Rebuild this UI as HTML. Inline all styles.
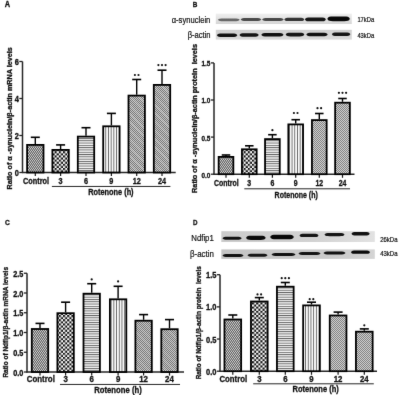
<!DOCTYPE html><html><head><meta charset="utf-8"><style>html,body{margin:0;padding:0;background:#fff;width:400px;height:395px;overflow:hidden}svg{display:block;will-change:transform;font-family:"Liberation Sans", sans-serif}text{stroke:#111;stroke-width:0.3px}</style></head><body>
<svg width="400" height="395" viewBox="0 0 400 395">
<defs>
<pattern id="pc" width="2" height="3" patternUnits="userSpaceOnUse"><rect width="2" height="3" fill="#d4d4d4"/><rect width="1" height="1" fill="#5a5a5a"/><rect x="1" y="1" width="1" height="1" fill="#5a5a5a"/><rect y="2" width="2" height="1" fill="#909090"/></pattern>
<pattern id="pk" width="4.2" height="4.2" patternUnits="userSpaceOnUse"><rect width="4.2" height="4.2" fill="#fff"/><rect width="2.1" height="2.1" fill="#111"/><rect x="2.1" y="2.1" width="2.1" height="2.1" fill="#111"/></pattern>
<pattern id="ph" width="4" height="2.3" patternUnits="userSpaceOnUse"><rect width="4" height="2.3" fill="#f6f6f6"/><rect y="0" width="4" height="0.9" fill="#606060"/></pattern>
<pattern id="pv" width="2.7" height="4" patternUnits="userSpaceOnUse"><rect width="2.7" height="4" fill="#fafafa"/><rect x="0" width="0.9" height="4" fill="#666"/></pattern>
<pattern id="pf" width="2" height="2" patternUnits="userSpaceOnUse"><rect width="2" height="2" fill="#d2d2d2"/><rect width="1" height="1" fill="#6c6c6c"/><rect x="1" y="1" width="1" height="1" fill="#6c6c6c"/></pattern>
<pattern id="pds2" width="6" height="6" patternUnits="userSpaceOnUse" patternTransform="rotate(45)"><rect width="6" height="1" fill="#eee" opacity="0.22"/></pattern>
<pattern id="pds" width="6" height="6" patternUnits="userSpaceOnUse" patternTransform="rotate(45)"><rect width="6" height="1" fill="#eee" opacity="0.4"/></pattern>
<pattern id="px" width="2" height="2" patternUnits="userSpaceOnUse"><rect width="2" height="2" fill="#dadada"/><rect width="1" height="1" fill="#787878"/><rect x="1" y="1" width="1" height="1" fill="#787878"/></pattern>
<linearGradient id="g1" x1="0" y1="0" x2="0" y2="1"><stop offset="0" stop-color="#f0f0f0"/><stop offset="0.45" stop-color="#e4e4e4"/><stop offset="1" stop-color="#d6d6d6"/></linearGradient>
<linearGradient id="g2" x1="0" y1="0" x2="0" y2="1"><stop offset="0" stop-color="#d0d0d0"/><stop offset="1" stop-color="#dadada"/></linearGradient>
<linearGradient id="g3" x1="0" y1="0" x2="0" y2="1"><stop offset="0" stop-color="#d6d6d6"/><stop offset="1" stop-color="#c6c6c6"/></linearGradient>
<filter id="gb" x="0" y="0" width="400" height="395" filterUnits="userSpaceOnUse" color-interpolation-filters="sRGB"><feConvolveMatrix order="3" kernelMatrix="0.0052 0.0619 0.0052 0.0619 0.7314 0.0619 0.0052 0.0619 0.0052" edgeMode="duplicate"/></filter>
<linearGradient id="g4" x1="0" y1="0" x2="1" y2="0"><stop offset="0" stop-color="#cbcbcb"/><stop offset="0.6" stop-color="#d2d2d2"/><stop offset="1" stop-color="#e2e2e2"/></linearGradient>
<linearGradient id="g5" x1="0" y1="0" x2="1" y2="0"><stop offset="0" stop-color="#c4c4c4"/><stop offset="0.7" stop-color="#cacaca"/><stop offset="1" stop-color="#d4d4d4"/></linearGradient>
<filter id="bl" x="-20%" y="-100%" width="140%" height="300%" color-interpolation-filters="sRGB"><feGaussianBlur stdDeviation="0.75"/></filter>
<filter id="bb" x="-5%" y="-30%" width="110%" height="160%" color-interpolation-filters="sRGB"><feGaussianBlur stdDeviation="0.5"/></filter>
</defs>
<rect width="400" height="395" fill="#fff"/>
<g filter="url(#gb)"><rect width="400" height="395" fill="#fff"/>
<line x1="22.5" y1="61.5" x2="22.5" y2="173" stroke="#262626" stroke-width="1.5"/>
<line x1="19.3" y1="172.5" x2="22.5" y2="172.5" stroke="#222" stroke-width="1.3"/>
<text x="18.9" y="176.08" font-size="8.29" font-weight="bold" text-anchor="end" fill="#111" textLength="4.12" lengthAdjust="spacingAndGlyphs" style="stroke-width:0.32px">0</text>
<line x1="19.3" y1="135.5" x2="22.5" y2="135.5" stroke="#222" stroke-width="1.3"/>
<text x="18.9" y="139.08" font-size="8.29" font-weight="bold" text-anchor="end" fill="#111" textLength="4.12" lengthAdjust="spacingAndGlyphs" style="stroke-width:0.32px">2</text>
<line x1="19.3" y1="98.5" x2="22.5" y2="98.5" stroke="#222" stroke-width="1.3"/>
<text x="18.9" y="102.08" font-size="8.29" font-weight="bold" text-anchor="end" fill="#111" textLength="4.12" lengthAdjust="spacingAndGlyphs" style="stroke-width:0.32px">4</text>
<line x1="19.3" y1="61.5" x2="22.5" y2="61.5" stroke="#222" stroke-width="1.3"/>
<text x="18.9" y="65.08" font-size="8.29" font-weight="bold" text-anchor="end" fill="#111" textLength="4.12" lengthAdjust="spacingAndGlyphs" style="stroke-width:0.32px">6</text>
<line x1="21.9" y1="172.5" x2="175.7" y2="172.5" stroke="#262626" stroke-width="1.5"/>
<line x1="35.3" y1="172.5" x2="35.3" y2="176.1" stroke="#1a1a1a" stroke-width="1.2"/>
<line x1="35.3" y1="137.3" x2="35.3" y2="144" stroke="#000" stroke-width="1.4"/>
<line x1="30.8" y1="137.3" x2="39.8" y2="137.3" stroke="#000" stroke-width="1.6"/>
<rect x="27.1" y="144.9" width="16.4" height="27.6" fill="url(#pc)" stroke="#000" stroke-width="1.8"/>
<text x="36" y="183.6" font-size="8.18" font-weight="bold" text-anchor="middle" fill="#111" textLength="25.95" lengthAdjust="spacingAndGlyphs">Control</text>
<line x1="60.6" y1="172.5" x2="60.6" y2="176.1" stroke="#1a1a1a" stroke-width="1.2"/>
<line x1="60.6" y1="144.9" x2="60.6" y2="149" stroke="#000" stroke-width="1.4"/>
<line x1="56.1" y1="144.9" x2="65.1" y2="144.9" stroke="#000" stroke-width="1.6"/>
<rect x="52.4" y="149.9" width="16.4" height="22.6" fill="url(#pk)" stroke="#000" stroke-width="1.8"/>
<text x="60.6" y="183.6" font-size="8.18" font-weight="bold" text-anchor="middle" fill="#111" textLength="4.06" lengthAdjust="spacingAndGlyphs">3</text>
<line x1="86" y1="172.5" x2="86" y2="176.1" stroke="#1a1a1a" stroke-width="1.2"/>
<line x1="86" y1="127.7" x2="86" y2="135.7" stroke="#000" stroke-width="1.4"/>
<line x1="81.5" y1="127.7" x2="90.5" y2="127.7" stroke="#000" stroke-width="1.6"/>
<rect x="77.8" y="136.6" width="16.4" height="35.9" fill="url(#ph)" stroke="#000" stroke-width="1.8"/>
<text x="86" y="183.6" font-size="8.18" font-weight="bold" text-anchor="middle" fill="#111" textLength="4.06" lengthAdjust="spacingAndGlyphs">6</text>
<line x1="111.4" y1="172.5" x2="111.4" y2="176.1" stroke="#1a1a1a" stroke-width="1.2"/>
<line x1="111.4" y1="113.4" x2="111.4" y2="125.4" stroke="#000" stroke-width="1.4"/>
<line x1="106.9" y1="113.4" x2="115.9" y2="113.4" stroke="#000" stroke-width="1.6"/>
<rect x="103.2" y="126.3" width="16.4" height="46.2" fill="url(#pv)" stroke="#000" stroke-width="1.8"/>
<text x="111.4" y="183.6" font-size="8.18" font-weight="bold" text-anchor="middle" fill="#111" textLength="4.06" lengthAdjust="spacingAndGlyphs">9</text>
<line x1="136.7" y1="172.5" x2="136.7" y2="176.1" stroke="#1a1a1a" stroke-width="1.2"/>
<line x1="136.7" y1="79.5" x2="136.7" y2="94.7" stroke="#000" stroke-width="1.4"/>
<line x1="132.2" y1="79.5" x2="141.2" y2="79.5" stroke="#000" stroke-width="1.6"/>
<rect x="128.5" y="95.6" width="16.4" height="76.9" fill="url(#pf)"/>
<rect x="128.5" y="95.6" width="16.4" height="76.9" fill="url(#pds)" stroke="#000" stroke-width="1.8"/>
<text x="136.7" y="183.6" font-size="8.18" font-weight="bold" text-anchor="middle" fill="#111" textLength="8.12" lengthAdjust="spacingAndGlyphs">12</text>
<circle cx="134.9" cy="75" r="1.1" fill="#111"/>
<circle cx="138.5" cy="75" r="1.1" fill="#111"/>
<line x1="162" y1="172.5" x2="162" y2="176.1" stroke="#1a1a1a" stroke-width="1.2"/>
<line x1="162" y1="70.2" x2="162" y2="84" stroke="#000" stroke-width="1.4"/>
<line x1="157.5" y1="70.2" x2="166.5" y2="70.2" stroke="#000" stroke-width="1.6"/>
<rect x="153.8" y="84.9" width="16.4" height="87.6" fill="url(#pf)"/>
<rect x="153.8" y="84.9" width="16.4" height="87.6" fill="url(#pds)" stroke="#000" stroke-width="1.8"/>
<text x="162" y="183.6" font-size="8.18" font-weight="bold" text-anchor="middle" fill="#111" textLength="8.12" lengthAdjust="spacingAndGlyphs">24</text>
<circle cx="158.4" cy="65.1" r="1.1" fill="#111"/>
<circle cx="162" cy="65.1" r="1.1" fill="#111"/>
<circle cx="165.6" cy="65.1" r="1.1" fill="#111"/>
<line x1="51.9" y1="186.45" x2="170.4" y2="186.45" stroke="#262626" stroke-width="1"/>
<text x="110.9" y="194.7" font-size="8.24" font-weight="bold" text-anchor="middle" fill="#111" textLength="45.38" lengthAdjust="spacingAndGlyphs">Rotenone (h)</text>
<text x="12" y="118.4" font-size="7.49" font-weight="bold" text-anchor="middle" fill="#111" transform="rotate(-90 12 118.4)" textLength="142.19" lengthAdjust="spacingAndGlyphs">Ratio of α -synuclein/β-actin mRNA levels</text>
<text x="4.7" y="6.9" font-size="8.29" font-weight="bold" text-anchor="start" fill="#111" textLength="5.34" lengthAdjust="spacingAndGlyphs">A</text>
<line x1="214" y1="62.9" x2="214" y2="174.7" stroke="#262626" stroke-width="1.5"/>
<line x1="210.8" y1="174.2" x2="214" y2="174.2" stroke="#222" stroke-width="1.3"/>
<text x="210.4" y="177.61" font-size="7.81" font-weight="bold" text-anchor="end" fill="#111" textLength="8.9" lengthAdjust="spacingAndGlyphs" style="stroke-width:0.32px">0.0</text>
<line x1="210.8" y1="137.1" x2="214" y2="137.1" stroke="#222" stroke-width="1.3"/>
<text x="210.4" y="140.51" font-size="7.81" font-weight="bold" text-anchor="end" fill="#111" textLength="8.9" lengthAdjust="spacingAndGlyphs" style="stroke-width:0.32px">0.5</text>
<line x1="210.8" y1="100" x2="214" y2="100" stroke="#222" stroke-width="1.3"/>
<text x="210.4" y="103.41" font-size="7.81" font-weight="bold" text-anchor="end" fill="#111" textLength="8.9" lengthAdjust="spacingAndGlyphs" style="stroke-width:0.32px">1.0</text>
<line x1="210.8" y1="62.9" x2="214" y2="62.9" stroke="#222" stroke-width="1.3"/>
<text x="210.4" y="66.31" font-size="7.81" font-weight="bold" text-anchor="end" fill="#111" textLength="8.9" lengthAdjust="spacingAndGlyphs" style="stroke-width:0.32px">1.5</text>
<line x1="213.4" y1="174.2" x2="354.5" y2="174.2" stroke="#262626" stroke-width="1.5"/>
<line x1="226" y1="174.2" x2="226" y2="177.8" stroke="#1a1a1a" stroke-width="1.2"/>
<line x1="226" y1="155" x2="226" y2="156" stroke="#000" stroke-width="1.4"/>
<line x1="221.75" y1="155" x2="230.25" y2="155" stroke="#000" stroke-width="1.6"/>
<rect x="218.65" y="156.9" width="14.7" height="17.3" fill="url(#pc)" stroke="#000" stroke-width="1.8"/>
<text x="226.3" y="185.7" font-size="8.48" font-weight="bold" text-anchor="middle" fill="#111" textLength="24.71" lengthAdjust="spacingAndGlyphs">Control</text>
<line x1="249.3" y1="174.2" x2="249.3" y2="177.8" stroke="#1a1a1a" stroke-width="1.2"/>
<line x1="249.3" y1="145.8" x2="249.3" y2="148.4" stroke="#000" stroke-width="1.4"/>
<line x1="245.05" y1="145.8" x2="253.55" y2="145.8" stroke="#000" stroke-width="1.6"/>
<rect x="241.95" y="149.3" width="14.7" height="24.9" fill="url(#pk)" stroke="#000" stroke-width="1.8"/>
<text x="249.3" y="185.7" font-size="8.48" font-weight="bold" text-anchor="middle" fill="#111" textLength="3.87" lengthAdjust="spacingAndGlyphs">3</text>
<line x1="272.4" y1="174.2" x2="272.4" y2="177.8" stroke="#1a1a1a" stroke-width="1.2"/>
<line x1="272.4" y1="134.7" x2="272.4" y2="138.2" stroke="#000" stroke-width="1.4"/>
<line x1="268.15" y1="134.7" x2="276.65" y2="134.7" stroke="#000" stroke-width="1.6"/>
<rect x="265.05" y="139.1" width="14.7" height="35.1" fill="url(#ph)" stroke="#000" stroke-width="1.8"/>
<text x="272.4" y="185.7" font-size="8.48" font-weight="bold" text-anchor="middle" fill="#111" textLength="3.87" lengthAdjust="spacingAndGlyphs">6</text>
<circle cx="272.4" cy="130.2" r="1.1" fill="#111"/>
<line x1="295.7" y1="174.2" x2="295.7" y2="177.8" stroke="#1a1a1a" stroke-width="1.2"/>
<line x1="295.7" y1="119.7" x2="295.7" y2="123.5" stroke="#000" stroke-width="1.4"/>
<line x1="291.45" y1="119.7" x2="299.95" y2="119.7" stroke="#000" stroke-width="1.6"/>
<rect x="288.35" y="124.4" width="14.7" height="49.8" fill="url(#pv)" stroke="#000" stroke-width="1.8"/>
<text x="295.7" y="185.7" font-size="8.48" font-weight="bold" text-anchor="middle" fill="#111" textLength="3.87" lengthAdjust="spacingAndGlyphs">9</text>
<circle cx="293.9" cy="113" r="1.1" fill="#111"/>
<circle cx="297.5" cy="113" r="1.1" fill="#111"/>
<line x1="319.3" y1="174.2" x2="319.3" y2="177.8" stroke="#1a1a1a" stroke-width="1.2"/>
<line x1="319.3" y1="113.5" x2="319.3" y2="119.2" stroke="#000" stroke-width="1.4"/>
<line x1="315.05" y1="113.5" x2="323.55" y2="113.5" stroke="#000" stroke-width="1.6"/>
<rect x="311.95" y="120.1" width="14.7" height="54.1" fill="url(#px)" stroke="#000" stroke-width="1.8"/>
<text x="319.3" y="185.7" font-size="8.48" font-weight="bold" text-anchor="middle" fill="#111" textLength="7.73" lengthAdjust="spacingAndGlyphs">12</text>
<circle cx="317.5" cy="108.2" r="1.1" fill="#111"/>
<circle cx="321.1" cy="108.2" r="1.1" fill="#111"/>
<line x1="342.5" y1="174.2" x2="342.5" y2="177.8" stroke="#1a1a1a" stroke-width="1.2"/>
<line x1="342.5" y1="98.5" x2="342.5" y2="101.8" stroke="#000" stroke-width="1.4"/>
<line x1="338.25" y1="98.5" x2="346.75" y2="98.5" stroke="#000" stroke-width="1.6"/>
<rect x="335.15" y="102.7" width="14.7" height="71.5" fill="url(#px)" stroke="#000" stroke-width="1.8"/>
<text x="342.5" y="185.7" font-size="8.48" font-weight="bold" text-anchor="middle" fill="#111" textLength="7.73" lengthAdjust="spacingAndGlyphs">24</text>
<circle cx="338.9" cy="92.8" r="1.1" fill="#111"/>
<circle cx="342.5" cy="92.8" r="1.1" fill="#111"/>
<circle cx="346.1" cy="92.8" r="1.1" fill="#111"/>
<line x1="244.3" y1="188.8" x2="350" y2="188.8" stroke="#262626" stroke-width="1"/>
<text x="296.2" y="198.4" font-size="8.54" font-weight="bold" text-anchor="middle" fill="#111" textLength="43.16" lengthAdjust="spacingAndGlyphs">Rotenone (h)</text>
<text x="197.2" y="118.5" font-size="7.59" font-weight="bold" text-anchor="middle" fill="#111" transform="rotate(-90 197.2 118.5)" textLength="148.89" lengthAdjust="spacingAndGlyphs">Ratio of α -synuclein/β-actin protein&#160; levels</text>
<text x="192.8" y="6.5" font-size="7.17" font-weight="bold" text-anchor="start" fill="#111" textLength="4.62" lengthAdjust="spacingAndGlyphs">B</text>
<line x1="27" y1="273.25" x2="27" y2="372.5" stroke="#262626" stroke-width="1.5"/>
<line x1="23.8" y1="372" x2="27" y2="372" stroke="#222" stroke-width="1.3"/>
<text x="23.4" y="375.54" font-size="8.18" font-weight="bold" text-anchor="end" fill="#111" textLength="10.15" lengthAdjust="spacingAndGlyphs" style="stroke-width:0.32px">0.0</text>
<line x1="23.8" y1="352.25" x2="27" y2="352.25" stroke="#222" stroke-width="1.3"/>
<text x="23.4" y="355.79" font-size="8.18" font-weight="bold" text-anchor="end" fill="#111" textLength="10.15" lengthAdjust="spacingAndGlyphs" style="stroke-width:0.32px">0.5</text>
<line x1="23.8" y1="332.5" x2="27" y2="332.5" stroke="#222" stroke-width="1.3"/>
<text x="23.4" y="336.04" font-size="8.18" font-weight="bold" text-anchor="end" fill="#111" textLength="10.15" lengthAdjust="spacingAndGlyphs" style="stroke-width:0.32px">1.0</text>
<line x1="23.8" y1="312.75" x2="27" y2="312.75" stroke="#222" stroke-width="1.3"/>
<text x="23.4" y="316.29" font-size="8.18" font-weight="bold" text-anchor="end" fill="#111" textLength="10.15" lengthAdjust="spacingAndGlyphs" style="stroke-width:0.32px">1.5</text>
<line x1="23.8" y1="293" x2="27" y2="293" stroke="#222" stroke-width="1.3"/>
<text x="23.4" y="296.54" font-size="8.18" font-weight="bold" text-anchor="end" fill="#111" textLength="10.15" lengthAdjust="spacingAndGlyphs" style="stroke-width:0.32px">2.0</text>
<line x1="23.8" y1="273.25" x2="27" y2="273.25" stroke="#222" stroke-width="1.3"/>
<text x="23.4" y="276.79" font-size="8.18" font-weight="bold" text-anchor="end" fill="#111" textLength="10.15" lengthAdjust="spacingAndGlyphs" style="stroke-width:0.32px">2.5</text>
<line x1="26.4" y1="372" x2="184" y2="372" stroke="#262626" stroke-width="1.5"/>
<line x1="40" y1="372" x2="40" y2="375.6" stroke="#1a1a1a" stroke-width="1.2"/>
<line x1="40" y1="323.4" x2="40" y2="328.1" stroke="#000" stroke-width="1.4"/>
<line x1="35.5" y1="323.4" x2="44.5" y2="323.4" stroke="#000" stroke-width="1.6"/>
<rect x="31.8" y="329" width="16.4" height="43" fill="url(#pc)" stroke="#000" stroke-width="1.8"/>
<text x="40.8" y="382.1" font-size="8.85" font-weight="bold" text-anchor="middle" fill="#111" textLength="28.08" lengthAdjust="spacingAndGlyphs">Control</text>
<line x1="65.6" y1="372" x2="65.6" y2="375.6" stroke="#1a1a1a" stroke-width="1.2"/>
<line x1="65.6" y1="302.2" x2="65.6" y2="312.3" stroke="#000" stroke-width="1.4"/>
<line x1="61.1" y1="302.2" x2="70.1" y2="302.2" stroke="#000" stroke-width="1.6"/>
<rect x="57.4" y="313.2" width="16.4" height="58.8" fill="url(#pk)" stroke="#000" stroke-width="1.8"/>
<text x="65.6" y="382.1" font-size="8.85" font-weight="bold" text-anchor="middle" fill="#111" textLength="4.39" lengthAdjust="spacingAndGlyphs">3</text>
<line x1="91.7" y1="372" x2="91.7" y2="375.6" stroke="#1a1a1a" stroke-width="1.2"/>
<line x1="91.7" y1="283.7" x2="91.7" y2="292.8" stroke="#000" stroke-width="1.4"/>
<line x1="87.2" y1="283.7" x2="96.2" y2="283.7" stroke="#000" stroke-width="1.6"/>
<rect x="83.5" y="293.7" width="16.4" height="78.3" fill="url(#ph)" stroke="#000" stroke-width="1.8"/>
<text x="91.7" y="382.1" font-size="8.85" font-weight="bold" text-anchor="middle" fill="#111" textLength="4.39" lengthAdjust="spacingAndGlyphs">6</text>
<circle cx="91.7" cy="279.4" r="1.1" fill="#111"/>
<line x1="118.1" y1="372" x2="118.1" y2="375.6" stroke="#1a1a1a" stroke-width="1.2"/>
<line x1="118.1" y1="286.3" x2="118.1" y2="298.4" stroke="#000" stroke-width="1.4"/>
<line x1="113.6" y1="286.3" x2="122.6" y2="286.3" stroke="#000" stroke-width="1.6"/>
<rect x="109.9" y="299.3" width="16.4" height="72.7" fill="url(#pv)" stroke="#000" stroke-width="1.8"/>
<text x="118.1" y="382.1" font-size="8.85" font-weight="bold" text-anchor="middle" fill="#111" textLength="4.39" lengthAdjust="spacingAndGlyphs">9</text>
<circle cx="118.1" cy="281.4" r="1.1" fill="#111"/>
<line x1="143.6" y1="372" x2="143.6" y2="375.6" stroke="#1a1a1a" stroke-width="1.2"/>
<line x1="143.6" y1="314.6" x2="143.6" y2="319.8" stroke="#000" stroke-width="1.4"/>
<line x1="139.1" y1="314.6" x2="148.1" y2="314.6" stroke="#000" stroke-width="1.6"/>
<rect x="135.4" y="320.7" width="16.4" height="51.3" fill="url(#pf)"/>
<rect x="135.4" y="320.7" width="16.4" height="51.3" fill="url(#pds2)" stroke="#000" stroke-width="1.8"/>
<text x="143.6" y="382.1" font-size="8.85" font-weight="bold" text-anchor="middle" fill="#111" textLength="8.79" lengthAdjust="spacingAndGlyphs">12</text>
<line x1="169.5" y1="372" x2="169.5" y2="375.6" stroke="#1a1a1a" stroke-width="1.2"/>
<line x1="169.5" y1="319.6" x2="169.5" y2="328.3" stroke="#000" stroke-width="1.4"/>
<line x1="165" y1="319.6" x2="174" y2="319.6" stroke="#000" stroke-width="1.6"/>
<rect x="161.3" y="329.2" width="16.4" height="42.8" fill="url(#pf)"/>
<rect x="161.3" y="329.2" width="16.4" height="42.8" fill="url(#pds2)" stroke="#000" stroke-width="1.8"/>
<text x="169.5" y="382.1" font-size="8.85" font-weight="bold" text-anchor="middle" fill="#111" textLength="8.79" lengthAdjust="spacingAndGlyphs">24</text>
<line x1="60" y1="384.45" x2="180" y2="384.45" stroke="#262626" stroke-width="1"/>
<text x="118" y="392.9" font-size="8.62" font-weight="bold" text-anchor="middle" fill="#111" textLength="47.48" lengthAdjust="spacingAndGlyphs">Rotenone (h)</text>
<text x="7.8" y="322.3" font-size="6.76" font-weight="bold" text-anchor="middle" fill="#111" transform="rotate(-90 7.8 322.3)" textLength="110.63" lengthAdjust="spacingAndGlyphs">Ratio of Ndfip1/β-actin mRNA levels</text>
<text x="5" y="224.8" font-size="7.39" font-weight="bold" text-anchor="start" fill="#111" textLength="4.77" lengthAdjust="spacingAndGlyphs">C</text>
<line x1="220" y1="274.7" x2="220" y2="371.7" stroke="#262626" stroke-width="1.5"/>
<line x1="216.8" y1="371.2" x2="220" y2="371.2" stroke="#222" stroke-width="1.3"/>
<text x="216.4" y="374.82" font-size="8.4" font-weight="bold" text-anchor="end" fill="#111" textLength="10.43" lengthAdjust="spacingAndGlyphs" style="stroke-width:0.32px">0.0</text>
<line x1="216.8" y1="339.03" x2="220" y2="339.03" stroke="#222" stroke-width="1.3"/>
<text x="216.4" y="342.66" font-size="8.4" font-weight="bold" text-anchor="end" fill="#111" textLength="10.43" lengthAdjust="spacingAndGlyphs" style="stroke-width:0.32px">0.5</text>
<line x1="216.8" y1="306.87" x2="220" y2="306.87" stroke="#222" stroke-width="1.3"/>
<text x="216.4" y="310.49" font-size="8.4" font-weight="bold" text-anchor="end" fill="#111" textLength="10.43" lengthAdjust="spacingAndGlyphs" style="stroke-width:0.32px">1.0</text>
<line x1="216.8" y1="274.7" x2="220" y2="274.7" stroke="#222" stroke-width="1.3"/>
<text x="216.4" y="278.33" font-size="8.4" font-weight="bold" text-anchor="end" fill="#111" textLength="10.43" lengthAdjust="spacingAndGlyphs" style="stroke-width:0.32px">1.5</text>
<line x1="219.4" y1="371.2" x2="377" y2="371.2" stroke="#262626" stroke-width="1.5"/>
<line x1="232.8" y1="371.2" x2="232.8" y2="374.8" stroke="#1a1a1a" stroke-width="1.2"/>
<line x1="232.8" y1="315" x2="232.8" y2="318.6" stroke="#000" stroke-width="1.4"/>
<line x1="228.3" y1="315" x2="237.3" y2="315" stroke="#000" stroke-width="1.6"/>
<rect x="224.45" y="319.5" width="16.7" height="51.7" fill="url(#pc)" stroke="#000" stroke-width="1.8"/>
<text x="233.3" y="381.9" font-size="8.74" font-weight="bold" text-anchor="middle" fill="#111" textLength="27.73" lengthAdjust="spacingAndGlyphs">Control</text>
<line x1="259.3" y1="371.2" x2="259.3" y2="374.8" stroke="#1a1a1a" stroke-width="1.2"/>
<line x1="259.3" y1="297.6" x2="259.3" y2="300.6" stroke="#000" stroke-width="1.4"/>
<line x1="254.8" y1="297.6" x2="263.8" y2="297.6" stroke="#000" stroke-width="1.6"/>
<rect x="250.95" y="301.5" width="16.7" height="69.7" fill="url(#pk)" stroke="#000" stroke-width="1.8"/>
<text x="259.3" y="381.9" font-size="8.74" font-weight="bold" text-anchor="middle" fill="#111" textLength="4.34" lengthAdjust="spacingAndGlyphs">3</text>
<circle cx="257.5" cy="294.4" r="1.1" fill="#111"/>
<circle cx="261.1" cy="294.4" r="1.1" fill="#111"/>
<line x1="285.3" y1="371.2" x2="285.3" y2="374.8" stroke="#1a1a1a" stroke-width="1.2"/>
<line x1="285.3" y1="282.5" x2="285.3" y2="285.8" stroke="#000" stroke-width="1.4"/>
<line x1="280.8" y1="282.5" x2="289.8" y2="282.5" stroke="#000" stroke-width="1.6"/>
<rect x="276.95" y="286.7" width="16.7" height="84.5" fill="url(#ph)" stroke="#000" stroke-width="1.8"/>
<text x="285.3" y="381.9" font-size="8.74" font-weight="bold" text-anchor="middle" fill="#111" textLength="4.34" lengthAdjust="spacingAndGlyphs">6</text>
<circle cx="281.7" cy="278.2" r="1.1" fill="#111"/>
<circle cx="285.3" cy="278.2" r="1.1" fill="#111"/>
<circle cx="288.9" cy="278.2" r="1.1" fill="#111"/>
<line x1="311.5" y1="371.2" x2="311.5" y2="374.8" stroke="#1a1a1a" stroke-width="1.2"/>
<line x1="311.5" y1="302.2" x2="311.5" y2="304.5" stroke="#000" stroke-width="1.4"/>
<line x1="307" y1="302.2" x2="316" y2="302.2" stroke="#000" stroke-width="1.6"/>
<rect x="303.15" y="305.4" width="16.7" height="65.8" fill="url(#pv)" stroke="#000" stroke-width="1.8"/>
<text x="311.5" y="381.9" font-size="8.74" font-weight="bold" text-anchor="middle" fill="#111" textLength="4.34" lengthAdjust="spacingAndGlyphs">9</text>
<circle cx="309.7" cy="299.2" r="1.1" fill="#111"/>
<circle cx="313.3" cy="299.2" r="1.1" fill="#111"/>
<line x1="338.1" y1="371.2" x2="338.1" y2="374.8" stroke="#1a1a1a" stroke-width="1.2"/>
<line x1="338.1" y1="312.1" x2="338.1" y2="314.6" stroke="#000" stroke-width="1.4"/>
<line x1="333.6" y1="312.1" x2="342.6" y2="312.1" stroke="#000" stroke-width="1.6"/>
<rect x="329.75" y="315.5" width="16.7" height="55.7" fill="url(#px)" stroke="#000" stroke-width="1.8"/>
<text x="338.1" y="381.9" font-size="8.74" font-weight="bold" text-anchor="middle" fill="#111" textLength="8.68" lengthAdjust="spacingAndGlyphs">12</text>
<line x1="364.3" y1="371.2" x2="364.3" y2="374.8" stroke="#1a1a1a" stroke-width="1.2"/>
<line x1="364.3" y1="328.9" x2="364.3" y2="330.8" stroke="#000" stroke-width="1.4"/>
<line x1="359.8" y1="328.9" x2="368.8" y2="328.9" stroke="#000" stroke-width="1.6"/>
<rect x="355.95" y="331.7" width="16.7" height="39.5" fill="url(#px)" stroke="#000" stroke-width="1.8"/>
<text x="364.3" y="381.9" font-size="8.74" font-weight="bold" text-anchor="middle" fill="#111" textLength="8.68" lengthAdjust="spacingAndGlyphs">24</text>
<circle cx="364.3" cy="325.3" r="1.1" fill="#111"/>
<line x1="253.2" y1="383.8" x2="373.8" y2="383.8" stroke="#262626" stroke-width="1"/>
<text x="315.6" y="391.9" font-size="8.4" font-weight="bold" text-anchor="middle" fill="#111" textLength="46.24" lengthAdjust="spacingAndGlyphs">Rotenone (h)</text>
<text x="201" y="322.8" font-size="6.66" font-weight="bold" text-anchor="middle" fill="#111" transform="rotate(-90 201 322.8)" textLength="113.08" lengthAdjust="spacingAndGlyphs">Ratio of Ndfip1/β-actin protein&#160; levels</text>
<text x="193" y="225.2" font-size="6.94" font-weight="bold" text-anchor="start" fill="#111" textLength="4.48" lengthAdjust="spacingAndGlyphs">D</text>
<rect x="215.8" y="13.6" width="136" height="10.4" fill="url(#g1)" filter="url(#bb)"/>
<path d="M217.9 19.8 C218.77 18.4 220.52 18.4 223.35 18.4 L234.25 18.4 C237.08 18.4 238.83 18.4 239.7 19.8 C238.83 21.2 237.08 21.2 234.25 21.2 L223.35 21.2 C220.52 21.2 218.77 21.2 217.9 19.8Z" fill="#666" filter="url(#bl)"/>
<path d="M240.7 19.5 C241.52 18 243.17 18 245.85 18 L256.15 18 C258.83 18 260.48 18 261.3 19.5 C260.48 21 258.83 21 256.15 21 L245.85 21 C243.17 21 241.52 21 240.7 19.5Z" fill="#4a4a4a" filter="url(#bl)"/>
<path d="M262.1 19.6 C262.96 18.1 264.69 18.1 267.5 18.1 L278.3 18.1 C281.11 18.1 282.84 18.1 283.7 19.6 C282.84 21.1 281.11 21.1 278.3 21.1 L267.5 21.1 C264.69 21.1 262.96 21.1 262.1 19.6Z" fill="#484848" filter="url(#bl)"/>
<path d="M284.3 19.4 C285.1 17.8 286.7 17.8 289.3 17.8 L299.3 17.8 C301.9 17.8 303.5 17.8 304.3 19.4 C303.5 21 301.9 21 299.3 21 L289.3 21 C286.7 21 285.1 21 284.3 19.4Z" fill="#333" filter="url(#bl)"/>
<path d="M304.9 19.4 C305.74 17.5 307.42 17.5 310.15 17.5 L320.65 17.5 C323.38 17.5 325.06 17.5 325.9 19.4 C325.06 21.3 323.38 21.3 320.65 21.3 L310.15 21.3 C307.42 21.3 305.74 21.3 304.9 19.4Z" fill="#151515" filter="url(#bl)"/>
<path d="M327.3 18.8 C328.2 16.4 330.01 16.4 332.95 16.4 L344.25 16.4 C347.19 16.4 349 16.4 349.9 18.8 C349 21.2 347.19 21.2 344.25 21.2 L332.95 21.2 C330.01 21.2 328.2 21.2 327.3 18.8Z" fill="#080808" filter="url(#bl)"/>
<rect x="215.8" y="29.8" width="136" height="9.8" fill="url(#g2)" filter="url(#bb)"/>
<path d="M216.9 35.2 C217.72 33.4 219.35 33.4 222 33.4 L232.2 33.4 C234.85 33.4 236.48 33.4 237.3 35.2 C236.48 37 234.85 37 232.2 37 L222 37 C219.35 37 217.72 37 216.9 35.2Z" fill="#111" filter="url(#bl)"/>
<path d="M239.5 35 C240.27 33.2 241.8 33.2 244.3 33.2 L253.9 33.2 C256.4 33.2 257.93 33.2 258.7 35 C257.93 36.8 256.4 36.8 253.9 36.8 L244.3 36.8 C241.8 36.8 240.27 36.8 239.5 35Z" fill="#151515" filter="url(#bl)"/>
<path d="M261.3 34.7 C262.19 32.9 263.96 32.9 266.85 32.9 L277.95 32.9 C280.84 32.9 282.61 32.9 283.5 34.7 C282.61 36.5 280.84 36.5 277.95 36.5 L266.85 36.5 C263.96 36.5 262.19 36.5 261.3 34.7Z" fill="#111" filter="url(#bl)"/>
<path d="M285.7 34.6 C286.44 32.8 287.93 32.8 290.35 32.8 L299.65 32.8 C302.07 32.8 303.56 32.8 304.3 34.6 C303.56 36.4 302.07 36.4 299.65 36.4 L290.35 36.4 C287.93 36.4 286.44 36.4 285.7 34.6Z" fill="#151515" filter="url(#bl)"/>
<path d="M306.3 34.5 C307.16 32.7 308.87 32.7 311.65 32.7 L322.35 32.7 C325.13 32.7 326.84 32.7 327.7 34.5 C326.84 36.3 325.13 36.3 322.35 36.3 L311.65 36.3 C308.87 36.3 307.16 36.3 306.3 34.5Z" fill="#111" filter="url(#bl)"/>
<path d="M331.9 34.3 C332.64 32.5 334.11 32.5 336.5 32.5 L345.7 32.5 C348.09 32.5 349.56 32.5 350.3 34.3 C349.56 36.1 348.09 36.1 345.7 36.1 L336.5 36.1 C334.11 36.1 332.64 36.1 331.9 34.3Z" fill="#151515" filter="url(#bl)"/>
<text x="210.3" y="23.2" font-size="8.51" font-weight="normal" text-anchor="end" fill="#111" textLength="38.61" lengthAdjust="spacingAndGlyphs" style="stroke-width:0.2px">α-synuclein</text>
<text x="210.6" y="38.2" font-size="8.51" font-weight="normal" text-anchor="end" fill="#111" textLength="22.96" lengthAdjust="spacingAndGlyphs" style="stroke-width:0.2px">β-actin</text>
<text x="357.4" y="21.5" font-size="6.5" font-weight="normal" text-anchor="start" fill="#111" textLength="16.77" lengthAdjust="spacingAndGlyphs" style="stroke-width:0.2px">17kDa</text>
<text x="357.4" y="37.6" font-size="6.5" font-weight="normal" text-anchor="start" fill="#111" textLength="16.77" lengthAdjust="spacingAndGlyphs" style="stroke-width:0.2px">43kDa</text>
<rect x="221.3" y="231.2" width="153.5" height="10.8" fill="url(#g4)" filter="url(#bb)"/>
<path d="M222.5 238.3 C223.27 236.8 224.8 236.8 227.3 236.8 L236.9 236.8 C239.4 236.8 240.93 236.8 241.7 238.3 C240.93 239.8 239.4 239.8 236.9 239.8 L227.3 239.8 C224.8 239.8 223.27 239.8 222.5 238.3Z" fill="#111" filter="url(#bl)"/>
<path d="M246.1 237.8 C246.88 235.7 248.45 235.7 251 235.7 L260.8 235.7 C263.35 235.7 264.92 235.7 265.7 237.8 C264.92 239.9 263.35 239.9 260.8 239.9 L251 239.9 C248.45 239.9 246.88 239.9 246.1 237.8Z" fill="#0a0a0a" filter="url(#bl)"/>
<path d="M270.1 237 C271.05 234.7 272.96 234.7 276.05 234.7 L287.95 234.7 C291.04 234.7 292.95 234.7 293.9 237 C292.95 239.3 291.04 239.3 287.95 239.3 L276.05 239.3 C272.96 239.3 271.05 239.3 270.1 237Z" fill="#080808" filter="url(#bl)"/>
<path d="M299.5 235.4 C300.26 233.7 301.78 233.7 304.25 233.7 L313.75 233.7 C316.22 233.7 317.74 233.7 318.5 235.4 C317.74 237.1 316.22 237.1 313.75 237.1 L304.25 237.1 C301.78 237.1 300.26 237.1 299.5 235.4Z" fill="#151515" filter="url(#bl)"/>
<path d="M324.5 234.6 C325.3 233 326.9 233 329.5 233 L339.5 233 C342.1 233 343.7 233 344.5 234.6 C343.7 236.2 342.1 236.2 339.5 236.2 L329.5 236.2 C326.9 236.2 325.3 236.2 324.5 234.6Z" fill="#151515" filter="url(#bl)"/>
<path d="M351.5 233.7 C352.23 232 353.68 232 356.05 232 L365.15 232 C367.52 232 368.97 232 369.7 233.7 C368.97 235.4 367.52 235.4 365.15 235.4 L356.05 235.4 C353.68 235.4 352.23 235.4 351.5 233.7Z" fill="#111" filter="url(#bl)"/>
<rect x="221.3" y="249.4" width="153.5" height="9.5" fill="url(#g5)" filter="url(#bb)"/>
<path d="M222.5 255.6 C223.34 254.1 225.02 254.1 227.75 254.1 L238.25 254.1 C240.98 254.1 242.66 254.1 243.5 255.6 C242.66 257.1 240.98 257.1 238.25 257.1 L227.75 257.1 C225.02 257.1 223.34 257.1 222.5 255.6Z" fill="#111" filter="url(#bl)"/>
<path d="M247.5 255.2 C248.3 253.7 249.9 253.7 252.5 253.7 L262.5 253.7 C265.1 253.7 266.7 253.7 267.5 255.2 C266.7 256.7 265.1 256.7 262.5 256.7 L252.5 256.7 C249.9 256.7 248.3 256.7 247.5 255.2Z" fill="#151515" filter="url(#bl)"/>
<path d="M271.5 254.6 C272.46 253.1 274.38 253.1 277.5 253.1 L289.5 253.1 C292.62 253.1 294.54 253.1 295.5 254.6 C294.54 256.1 292.62 256.1 289.5 256.1 L277.5 256.1 C274.38 256.1 272.46 256.1 271.5 254.6Z" fill="#111" filter="url(#bl)"/>
<path d="M298.5 253.4 C299.38 251.9 301.14 251.9 304 251.9 L315 251.9 C317.86 251.9 319.62 251.9 320.5 253.4 C319.62 254.9 317.86 254.9 315 254.9 L304 254.9 C301.14 254.9 299.38 254.9 298.5 253.4Z" fill="#151515" filter="url(#bl)"/>
<path d="M323.5 253 C324.38 251.5 326.14 251.5 329 251.5 L340 251.5 C342.86 251.5 344.62 251.5 345.5 253 C344.62 254.5 342.86 254.5 340 254.5 L329 254.5 C326.14 254.5 324.38 254.5 323.5 253Z" fill="#111" filter="url(#bl)"/>
<path d="M351 252.2 C351.76 250.6 353.28 250.6 355.75 250.6 L365.25 250.6 C367.72 250.6 369.24 250.6 370 252.2 C369.24 253.8 367.72 253.8 365.25 253.8 L355.75 253.8 C353.28 253.8 351.76 253.8 351 252.2Z" fill="#0a0a0a" filter="url(#bl)"/>
<text x="213.8" y="240.8" font-size="8.74" font-weight="normal" text-anchor="end" fill="#111" textLength="22.55" lengthAdjust="spacingAndGlyphs" style="stroke-width:0.2px">Ndfip1</text>
<text x="213.9" y="257.2" font-size="8.85" font-weight="normal" text-anchor="end" fill="#111" textLength="23.86" lengthAdjust="spacingAndGlyphs" style="stroke-width:0.2px">β-actin</text>
<text x="380.2" y="242" font-size="6.72" font-weight="normal" text-anchor="start" fill="#111" textLength="17.34" lengthAdjust="spacingAndGlyphs" style="stroke-width:0.2px">26kDa</text>
<text x="380.2" y="255.9" font-size="6.72" font-weight="normal" text-anchor="start" fill="#111" textLength="17.34" lengthAdjust="spacingAndGlyphs" style="stroke-width:0.2px">43kDa</text>
</g></svg></body></html>
